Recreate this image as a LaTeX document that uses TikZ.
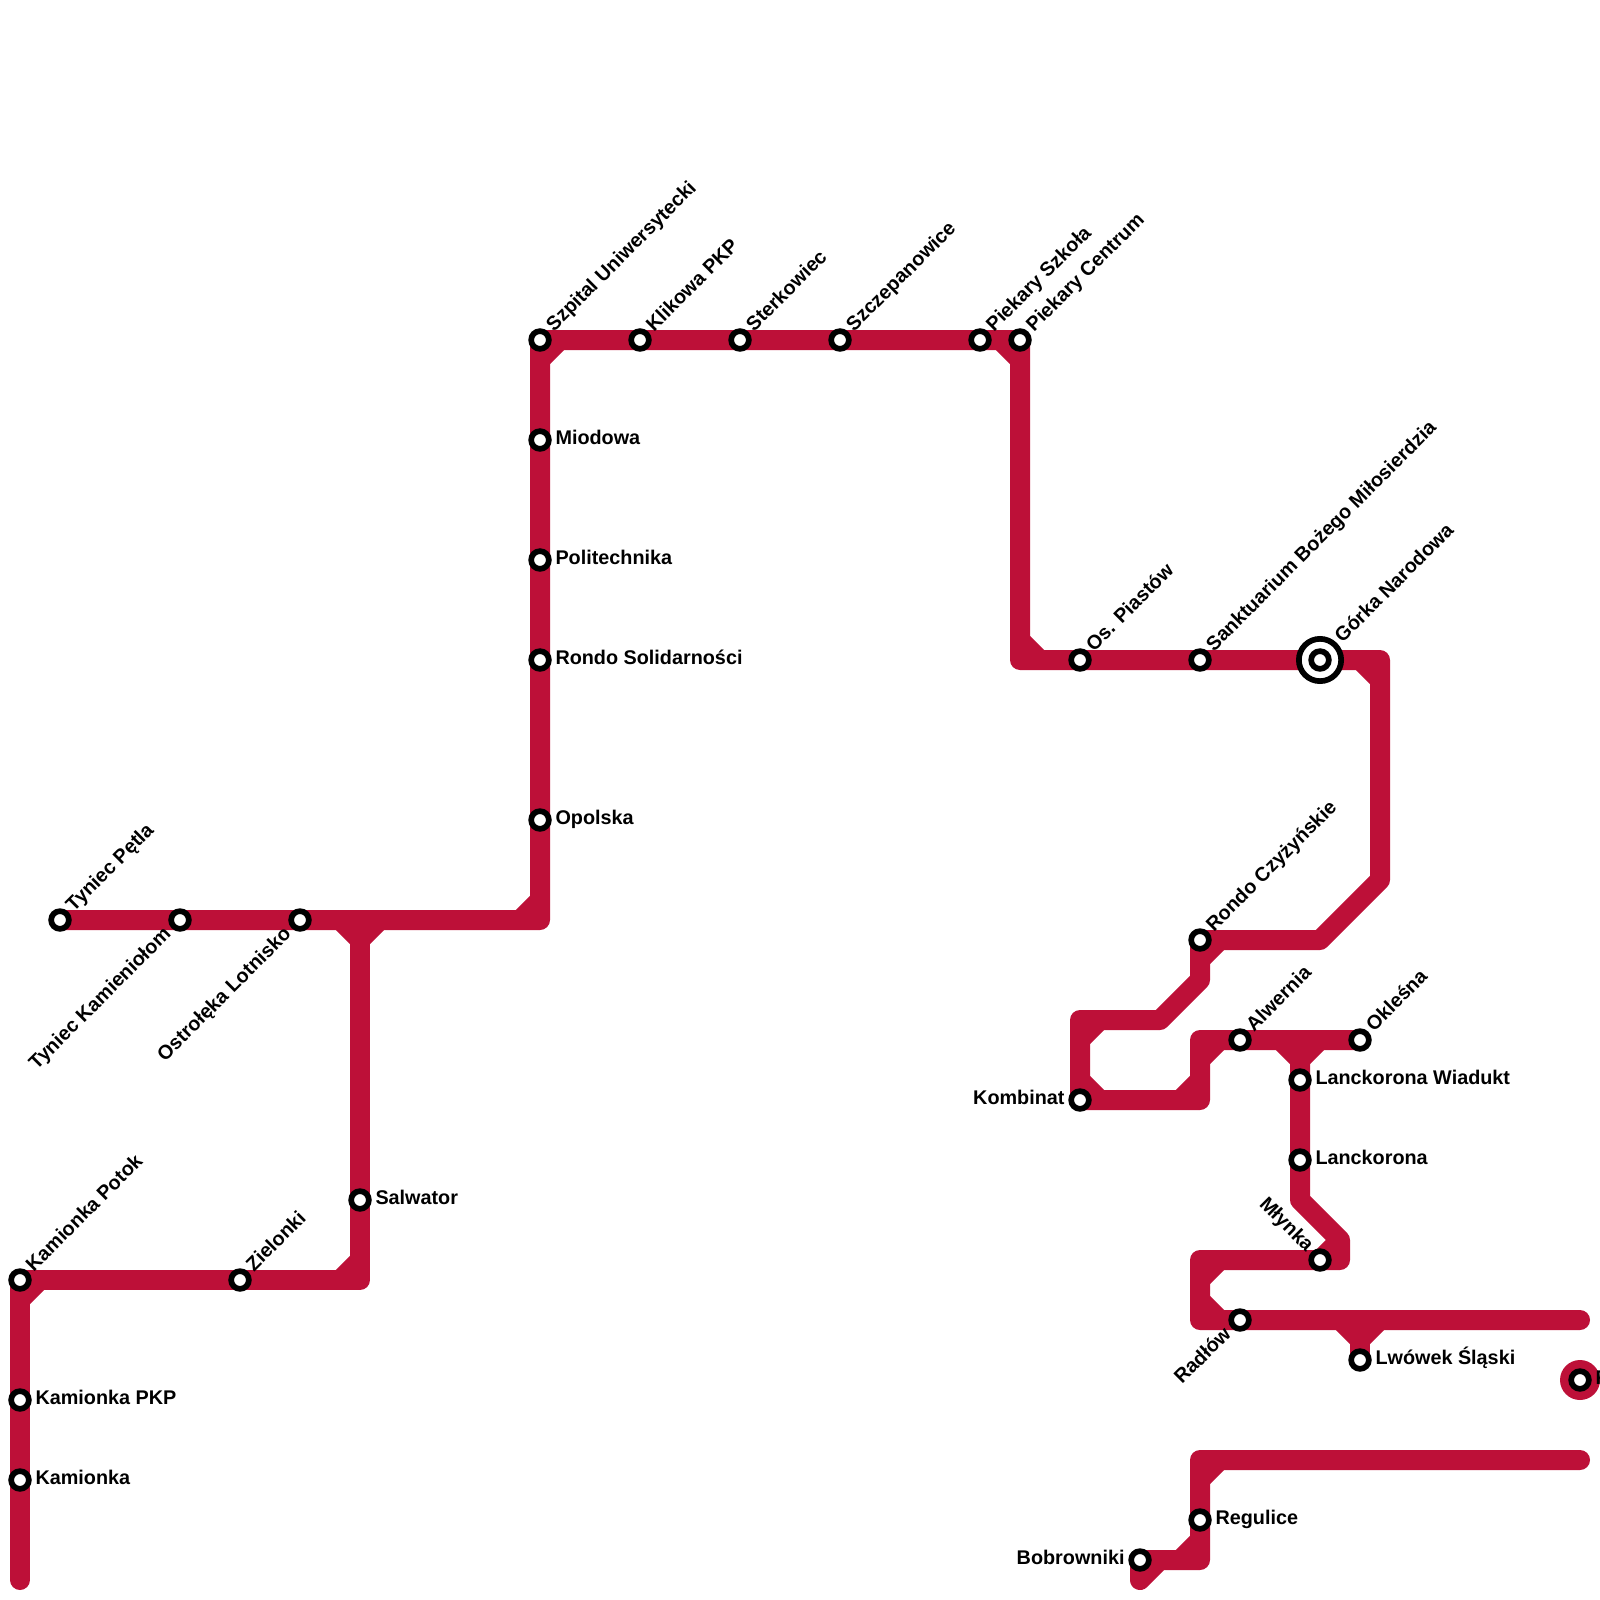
\documentclass[tikz,border=0pt]{standalone}
\usepackage{fontspec}
\setmainfont{Liberation Sans}
\usetikzlibrary{backgrounds}
\definecolor{linered}{HTML}{BD1038}
\tikzset{
    track/.style={draw=linered, line width=10pt, line join=round, line cap=round},
    chamfer/.style={draw=linered, line width=10pt, line cap=butt},
    station/.style={circle, draw=black, fill=white, line width=2.85pt, minimum size=8.85pt, inner sep=0pt},
    stationring/.style={circle, draw=black, fill=white, line width=2.85pt, minimum size=21.15pt, inner sep=0pt},
    namebase/.style={font=\bfseries\fontsize{9.9pt}{11pt}\selectfont, inner sep=0pt, text height=7pt, text depth=2.7pt},
    labNE/.style={label={[namebase, xshift=1.2pt, yshift=-0.7pt, rotate=45, anchor=west, label distance=1.8pt]45:#1}},
    labE/.style={label={[namebase, anchor=west, label distance=1.7pt]0:#1}},
    labW/.style={label={[namebase, anchor=east, label distance=1.7pt]180:#1}},
    labSW/.style={label={[namebase, xshift=-1.3pt, rotate=45, anchor=east, label distance=1.8pt]225:#1}},
    labNW/.style={label={[namebase, xshift=-1.2pt, yshift=-0.9pt, rotate=-45, anchor=east, label distance=1.8pt]135:#1}},
}
\begin{document}
\begin{tikzpicture}[x=0.5pt, y=-0.5pt]
    \useasboundingbox (0,0) rectangle (1600,1600);
    % stations, west part
    \node[station, labE={Kamionka}] (kamionka) at (20,1480) {};
    \node[station, labE={Kamionka PKP}] (kamionkaPkp) at (20,1400) {};
    \node[station, labNE={Kamionka Potok}] (kamionkaPotok) at (20,1280) {};
    \node[station, labNE={Zielonki}] (zielonki) at (240,1280) {};
    \node[station, labE={Salwator}] (salwator) at (360,1200) {};
    \node[station, labNE={Tyniec Pętla}] (tyniecPetla) at (60,920) {};
    \node[station, labSW={Tyniec Kamieniołom}] (tyniecKam) at (180,920) {};
    \node[station, labSW={Ostrołęka Lotnisko}] (ostroleka) at (300,920) {};
    \node[station, labE={Opolska}] (opolska) at (540,820) {};
    \node[station, labE={Rondo Solidarności}] (rondoSol) at (540,660) {};
    \node[station, labE={Politechnika}] (politechnika) at (540,560) {};
    \node[station, labE={Miodowa}] (miodowa) at (540,440) {};
    % stations, top row
    \node[station, labNE={Szpital Uniwersytecki}] (szpital) at (540,340) {};
    \node[station, labNE={Klikowa PKP}] (klikowa) at (640,340) {};
    \node[station, labNE={Sterkowiec}] (sterkowiec) at (740,340) {};
    \node[station, labNE={Szczepanowice}] (szczepanowice) at (840,340) {};
    \node[station, labNE={Piekary Szkoła}] (piekarySzk) at (980,340) {};
    \node[station, labNE={Piekary Centrum}] (piekaryCen) at (1020,340) {};
    % stations, east part
    \node[station, labNE={Os. Piastów}] (piastow) at (1080,660) {};
    \node[station, labNE={Sanktuarium Bożego Miłosierdzia}] (sanktuarium) at (1200,660) {};
    \node[stationring, labNE={Górka Narodowa}] (gorkaRing) at (1320,660) {};
    \node[station] (gorka) at (gorkaRing.center) {};
    \node[station, labNE={Rondo Czyżyńskie}] (rondoCzy) at (1200,940) {};
    \node[station, labW={Kombinat}] (kombinat) at (1080,1100) {};
    \node[station, labNE={Alwernia}] (alwernia) at (1240,1040) {};
    \node[station, labNE={Okleśna}] (oklesna) at (1360,1040) {};
    \node[station, labE={Lanckorona Wiadukt}] (lanckWiadukt) at (1300,1080) {};
    \node[station, labE={Lanckorona}] (lanckorona) at (1300,1160) {};
    \node[station, labNW={Młynka}] (mlynka) at (1320,1260) {};
    \node[station, labSW={Radłów}] (radlow) at (1240,1320) {};
    \node[station, labE={Lwówek Śląski}] (lwowek) at (1360,1360) {};
    \node[station, labE={R}] (lone) at (1580,1380) {};
    \node[station, labE={Regulice}] (regulice) at (1200,1520) {};
    \node[station, labW={Bobrowniki}] (bobrowniki) at (1140,1560) {};
    % free ends and bends
    \coordinate (kamionkaEnd) at (20,1580);
    \coordinate (bendA) at (360,1280);
    \coordinate (bendB) at (360,920);
    \coordinate (bendC) at (540,920);
    \coordinate (bendD) at (1020,660);
    \coordinate (bendE) at (1380,660);
    \coordinate (bendF) at (1380,880);
    \coordinate (bendG) at (1320,940);
    \coordinate (bendH) at (1200,980);
    \coordinate (bendI) at (1160,1020);
    \coordinate (bendJ) at (1080,1020);
    \coordinate (bendK) at (1200,1100);
    \coordinate (bendL) at (1200,1040);
    \coordinate (forkA) at (1300,1040);
    \coordinate (bendM) at (1300,1200);
    \coordinate (bendN) at (1340,1240);
    \coordinate (bendO) at (1340,1260);
    \coordinate (bendP) at (1200,1260);
    \coordinate (bendQ) at (1200,1320);
    \coordinate (radlowEnd) at (1580,1320);
    \coordinate (forkB) at (1360,1320);
    \coordinate (southEnd) at (1580,1460);
    \coordinate (bendR) at (1200,1460);
    \coordinate (bendS) at (1200,1560);
    \coordinate (bobrEnd) at (1140,1580);
    \coordinate (bobrDiag) at (1160,1560);
    \begin{scope}[on background layer]
        \draw[track] (kamionkaEnd) -- (kamionkaPotok.center) -- (bendA) -- (bendB);
        \draw[track] (tyniecPetla.center) -- (bendC) -- (szpital.center) -- (piekaryCen.center) -- (bendD) -- (bendE) -- (bendF) -- (bendG) -- (rondoCzy.center) -- (bendH) -- (bendI) -- (bendJ) -- (kombinat.center) -- (bendK) -- (bendL) -- (oklesna.center);
        \draw[track] (forkA) -- (bendM) -- (bendN) -- (bendO) -- (bendP) -- (bendQ) -- (radlowEnd);
        \draw[track] (forkB) -- (lwowek.center);
        \draw[track] (southEnd) -- (bendR) -- (bendS) -- (bobrowniki.center) -- (bobrEnd) -- (bobrDiag);
        \node[circle, fill=linered, minimum size=20pt, inner sep=0pt] (loneRing) at (lone.center) {};
        % inner corners
        \foreach \ax/\ay/\bx/\by in {20/1300/40/1280, 340/1280/360/1260, 520/920/540/900, 540/360/560/340, 1000/340/1020/360, 1020/640/1040/660, 1360/660/1380/680, 1200/960/1220/940, 1080/1040/1100/1020, 1080/1080/1100/1100, 1180/1100/1200/1080, 1200/1060/1220/1040, 1320/1260/1340/1240, 1200/1280/1220/1260, 1200/1300/1220/1320, 1200/1480/1220/1460, 1180/1560/1200/1540, 340/920/360/940, 380/920/360/940, 1280/1040/1300/1060, 1320/1040/1300/1060, 1340/1320/1360/1340, 1380/1320/1360/1340}
            \draw[chamfer] (\ax,\ay) -- (\bx,\by);
    \end{scope}
\end{tikzpicture}
\end{document}
